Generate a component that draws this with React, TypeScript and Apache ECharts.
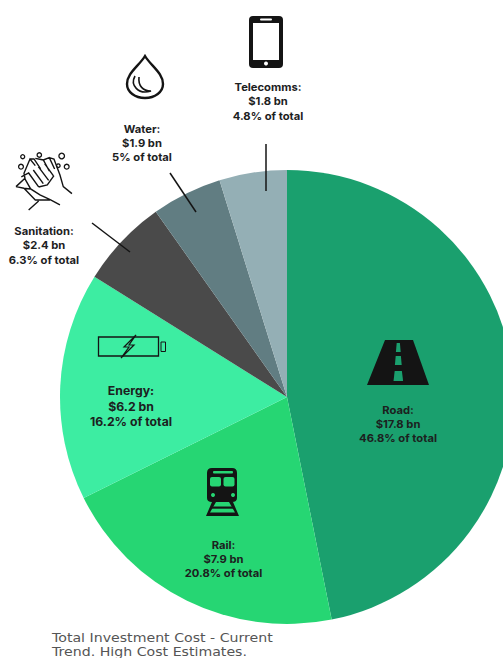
import React, { useEffect, useRef } from "react";
import * as echarts from "echarts";

const sectors = ["Road", "Rail", "Energy", "Sanitation", "Water", "Telecomms"];
const costsBn = [17.8, 7.9, 6.2, 2.4, 1.9, 1.8];
const sharePercent = [46.8, 20.8, 16.2, 6.3, 5, 4.8];
const sectorColors = ["#1aa06e", "#26d673", "#3deda2", "#4a4a4a", "#617d82", "#94afb5"];
const captionLines = ["Total Investment Cost - Current", "Trend. High Cost Estimates."];

// Label anchors, in sector order: centre x, first-line y, line height, font size.
const labelAnchors = [
  [398, 410, 14, 10.8],
  [223.5, 545, 14, 10.8],
  [131, 391, 15.5, 11.8],
  [44, 231, 14.5, 10.8],
  [142, 129, 14, 10.8],
  [268, 87, 14.5, 10.8],
];

const leaderLines = [
  [266, 144, 266, 191],
  [170, 173, 196, 212],
  [92, 223, 130, 252],
];

const INK = "#141414";
const FONT = "Inter, 'Noto Sans', sans-serif";
const OVERLAY_Z = 10;

echarts.graphic.registerShape(
  "dropOutline",
  echarts.graphic.extendPath(
    "M145 56 C139 66 127 73 127 84 C127 92 135 98 145 98 C155 98 163 92 163 84 C163 73 151 66 145 56 Z",
    {}
  )
);
echarts.graphic.registerShape(
  "dropRipple",
  echarts.graphic.extendPath("M135 76 C130 85 138 95 151 91 C143 91 138 86 139 77", {})
);
echarts.graphic.registerShape(
  "bolt",
  echarts.graphic.extendPath("M136 335 L124 347 L129 347 L121 358 L134 345 L129 345 Z", {})
);
echarts.graphic.registerShape(
  "train",
  echarts.graphic.extendPath(
    "M212 468 L232 468 Q237 468 237 473 L237 498 Q237 502 232 502 L212 502 Q207 502 207 498 L207 473 Q207 468 212 468 Z " +
      "M212 502 L216 502 L210 512.5 L235 512.5 L229 502 L233 502 L239 516 L206 516 Z",
    {}
  )
);
echarts.graphic.registerShape(
  "hands",
  echarts.graphic.extendPath(
    "M18 125 L45 100 L42 85 L60 42 L76 62 M60 42 L72 42 L92 72 M76 40 L100 45 L118 78 M100 45 L118 38 L134 72 " +
      "M118 38 L132 42 L150 90 L160 125 L186 146 " +
      "M34 96 L56 84 L86 126 M70 75 L100 116 M85 65 L116 106 M104 56 L130 92 " +
      "M86 126 L112 120 L132 92 M44 100 L62 132 L90 150 L122 165 L150 180 " +
      "M18 125 L42 130 L60 132 M42 130 L76 165 L120 165 M56 195 L86 168",
    {}
  )
);

const strokeOnly = (color: string, lineWidth: number) => ({ fill: "none", stroke: color, lineWidth });

function sectorLabels() {
  return sectors.flatMap((name, i) => {
    const [cx, top, leading, size] = labelAnchors[i];
    const lines = [`${name}:`, `$${costsBn[i]} bn`, `${sharePercent[i]}% of total`];
    return lines.map((text, row) => ({
      type: "text",
      x: cx,
      y: top + row * leading,
      scaleX: 1.04,
      style: {
        text,
        fill: "#1c211e",
        font: `700 ${size}px ${FONT}`,
        align: "center",
        verticalAlign: "middle",
      },
    }));
  });
}

function phoneIcon() {
  return [
    { type: "rect", shape: { x: 249, y: 16, width: 34, height: 52, r: 4 }, style: { fill: INK } },
    { type: "rect", shape: { x: 253, y: 23, width: 26, height: 37 }, style: { fill: "#ffffff" } },
    { type: "rect", shape: { x: 260, y: 18.5, width: 12, height: 2, r: 1 }, style: { fill: "#ffffff" } },
    { type: "circle", shape: { cx: 266, cy: 63.5, r: 2 }, style: { fill: "#ffffff" } },
  ];
}

function dropIcon() {
  return [
    { type: "dropOutline", style: strokeOnly(INK, 2.4) },
    { type: "dropRipple", style: strokeOnly(INK, 1.6) },
  ];
}

function handsIcon() {
  const bubbles = [
    [22.7, 156.7, 2],
    [39.3, 155, 2.2],
    [61.7, 156, 2.8],
    [21, 166.7, 2.4],
    [66.7, 166.7, 2.4],
    [58.3, 165.7, 1.8],
  ];
  return [
    { type: "hands", x: 10, y: 145, scaleX: 1 / 3, scaleY: 1 / 3, style: strokeOnly(INK, 4.2) },
    ...bubbles.map(([cx, cy, r]) => ({ type: "circle", shape: { cx, cy, r }, style: strokeOnly(INK, 1.3) })),
  ];
}

function batteryIcon() {
  return [
    { type: "rect", shape: { x: 98.5, y: 337, width: 60, height: 19 }, style: strokeOnly(INK, 1.3) },
    { type: "rect", shape: { x: 161, y: 342, width: 4.5, height: 9.5 }, style: strokeOnly(INK, 1) },
    { type: "bolt", style: strokeOnly(INK, 1.2) },
  ];
}

function trainIcon() {
  const face = sectorColors[1];
  return [
    { type: "train", style: { fill: INK } },
    { type: "rect", shape: { x: 213, y: 471, width: 20, height: 2.6, r: 1 }, style: { fill: face } },
    { type: "rect", shape: { x: 210, y: 477, width: 11, height: 9.5, r: 2 }, style: { fill: face } },
    { type: "rect", shape: { x: 223.5, y: 477, width: 11, height: 9.5, r: 2 }, style: { fill: face } },
    { type: "circle", shape: { cx: 213, cy: 495, r: 2 }, style: { fill: face } },
    { type: "circle", shape: { cx: 233, cy: 495, r: 2 }, style: { fill: face } },
    { type: "rect", shape: { x: 211, y: 506.5, width: 23, height: 2.2 }, style: { fill: INK } },
  ];
}

function roadIcon() {
  const paint = sectorColors[0];
  const dashes = [
    [343, 352, 1.6, 2.4],
    [356, 365, 2.6, 3.4],
    [371, 381, 3.6, 4.8],
  ];
  return [
    { type: "polygon", shape: { points: [[385, 340], [413, 340], [429, 385], [367, 385]] }, style: { fill: INK } },
    ...dashes.map(([top, bottom, halfTop, halfBottom]) => ({
      type: "polygon",
      shape: {
        points: [
          [398.3 - halfTop, top],
          [398.3 + halfTop, top],
          [398.3 + halfBottom, bottom],
          [398.3 - halfBottom, bottom],
        ],
      },
      style: { fill: paint },
    })),
  ];
}

export default function App() {
  const hostRef = useRef<HTMLDivElement>(null);

  useEffect(() => {
    const chart = echarts.init(hostRef.current!, undefined, { renderer: "svg" });
    // Later elements in the list paint over earlier ones at the same z.
    const overlay = [
      ...leaderLines.map(([x1, y1, x2, y2]) => ({
        type: "line",
        shape: { x1, y1, x2, y2 },
        style: { stroke: INK, lineWidth: 1.5 },
      })),
      ...phoneIcon(),
      ...dropIcon(),
      ...handsIcon(),
      ...batteryIcon(),
      ...trainIcon(),
      ...roadIcon(),
      ...sectorLabels(),
      ...captionLines.map((text, row) => ({
        type: "text",
        x: 52,
        y: 637.5 + row * 14,
        scaleX: 1.18,
        style: {
          text,
          fill: "#555555",
          font: `400 12px 'DejaVu Sans', sans-serif`,
          align: "left",
          verticalAlign: "middle",
        },
      })),
    ].map((el) => ({ ...el, z: OVERLAY_Z, silent: true }));

    chart.setOption({
      animation: false,
      backgroundColor: "#ffffff",
      series: [
        {
          type: "pie",
          center: [287, 397],
          radius: [0, 227],
          startAngle: 90,
          clockwise: true,
          silent: true,
          label: { show: false },
          labelLine: { show: false },
          itemStyle: { borderWidth: 0 },
          data: sectors.map((name, i) => ({
            name,
            value: sharePercent[i],
            itemStyle: { color: sectorColors[i] },
          })),
        },
      ],
      graphic: { elements: overlay },
    });
    return () => chart.dispose();
  }, []);

  return (
    <div
      ref={hostRef}
      style={{ position: "absolute", left: 0, top: 0, width: 503, height: 658, overflow: "hidden" }}
    />
  );
}
